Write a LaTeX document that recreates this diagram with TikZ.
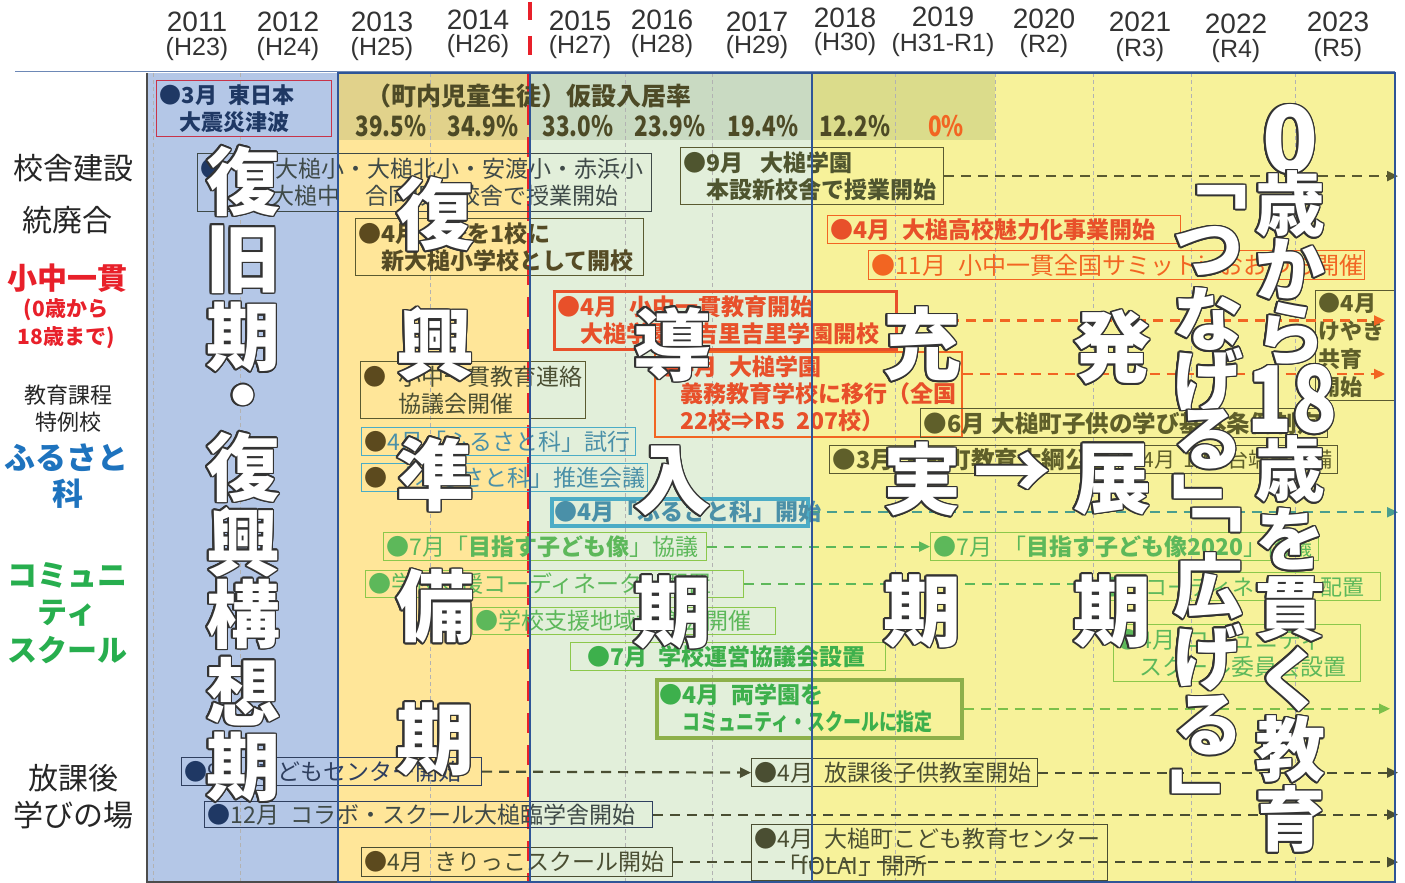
\documentclass[tikz,border=0pt]{standalone}
\usepackage{fontspec}
\setmainfont{Noto Sans CJK JP}
\newfontfamily\yearfont{Liberation Sans}
\usepackage{contour}
\contourlength{1.5pt}
\contournumber{16}
\usetikzlibrary{arrows.meta}
\definecolor{bgblue}{HTML}{B4C7E7}
\definecolor{bgorange}{HTML}{FFE699}
\definecolor{bggreen}{HTML}{E2EFDA}
\definecolor{bgyellow}{HTML}{F7F29A}
\definecolor{bandc}{HTML}{3C643C}
\definecolor{regnavy}{HTML}{2F5597}
\definecolor{jred}{HTML}{C8344A}
\definecolor{dnavy}{HTML}{1F3864}
\definecolor{slate}{HTML}{3F4A48}
\definecolor{olv}{HTML}{5A5A30}
\definecolor{olvt}{HTML}{554B25}
\definecolor{olvt2}{HTML}{4F552F}
\definecolor{olvt3}{HTML}{5F5F2A}
\definecolor{brn}{HTML}{5C4A1E}
\definecolor{org}{HTML}{F26522}
\definecolor{orgd}{HTML}{E8502A}
\definecolor{tealb}{HTML}{4BACC6}
\definecolor{tealt}{HTML}{4A90A8}
\definecolor{tealarr}{HTML}{4A9E8E}
\definecolor{grn}{HTML}{8CC84B}
\definecolor{grnt}{HTML}{5DB85A}
\definecolor{grnd}{HTML}{3DB04C}
\definecolor{grnarr}{HTML}{7CC04A}
\definecolor{ryoub}{HTML}{8DB04A}
\definecolor{dk}{HTML}{4A4E32}
\definecolor{cnavy}{HTML}{2F3F5F}
\definecolor{lred}{HTML}{E8202A}
\definecolor{lblue}{HTML}{1E73BE}
\definecolor{lgreen}{HTML}{27AE4E}
\definecolor{outl}{HTML}{333333}
\definecolor{pctc}{HTML}{4D4A26}
\newcommand\gap{\hspace*{0.5em}}
\newcommand\fs[1]{\fontsize{#1}{27}\selectfont}
\newcommand\bc[1]{\contour{outl}{#1}}
\newcommand\cnd[1]{\scalebox{0.8}[1]{#1}}
\tikzset{
  bx/.style={draw=#1, line width=1.2pt, anchor=north west, inner xsep=3pt, inner ysep=0pt, align=left, font=\fs{23}},
  sz/.style 2 args={text width=#1, minimum height=#2},
  arr/.style={draw=#1, line width=2.2pt, dash pattern=on 10pt off 7pt, -{Triangle[length=11pt,width=10pt]}},
  arrn/.style={draw=#1, line width=2.2pt, dash pattern=on 10pt off 7pt},
  big/.style={font=\fontsize{78}{78}\selectfont\bfseries, text=white, inner sep=0pt},
  bigs/.style={font=\fontsize{74}{74}\selectfont\bfseries, text=white, inner sep=0pt},
  bigr/.style={font=\fontsize{70}{70}\selectfont\bfseries, text=white, inner sep=0pt},
  bign/.style={font=\fontsize{92}{92}\selectfont\bfseries, text=white, inner sep=0pt},
  yr/.style={font=\yearfont\fontsize{28}{28}\selectfont, text=black!80, inner sep=0pt},
  hr/.style={font=\yearfont\fontsize{25}{25}\selectfont, text=black!80, inner sep=0pt},
  lab/.style={inner sep=0pt, font=\fontsize{30}{30}\selectfont, text=black!85},
  labs/.style={inner sep=0pt, font=\fontsize{22}{22}\selectfont, text=black!85},
  pct/.style={inner sep=0pt, font=\fontsize{28}{28}\selectfont\bfseries, text=pctc},
  ptl/.style={inner sep=0pt, font=\fontsize{25}{25}\selectfont\bfseries, text=pctc},
  grid/.style={draw=gray!60, line width=0.6pt, dash pattern=on 4pt off 3pt},
}
\begin{document}
\begin{tikzpicture}[x=1pt,y=-1pt]
\useasboundingbox (0,0) rectangle (1405,883);
\fill[white] (0,0) rectangle (1405,883);
% regions
\fill[bgblue] (147,73) rectangle (338,882);
\fill[bgorange] (338,73) rectangle (530,882);
\fill[bggreen] (530,73) rectangle (812,882);
\fill[bgyellow] (812,73) rectangle (1395,882);
\fill[bandc, opacity=0.15] (338,73) rectangle (995,140);
\foreach \x in {153,240,430,625,712,895,995,1093,1191,1295}
  \draw[grid] (\x,73) -- (\x,882);
\draw[lred, line width=3pt, dash pattern=on 20pt off 12pt] (528,73) -- (528,882);
% header
\draw[regnavy!70, line width=1pt] (15,72) -- (1395,72);
\draw[lred, line width=4pt] (530,2) -- (530,20);
\draw[lred, line width=4pt] (530,36) -- (530,55);
\node[yr] (y11) at (197,22) {2011}; \node[hr] (h11) at (197,49) {(H23)};
\node[yr] (y12) at (288,22) {2012}; \node[hr] (h12) at (288,49) {(H24)};
\node[yr] (y13) at (382,22) {2013}; \node[hr] (h13) at (382,49) {(H25)};
\node[yr] (y14) at (478,20) {2014}; \node[hr] (h14) at (478,46) {(H26)};
\node[yr] (y15) at (580,21) {2015}; \node[hr] (h15) at (580,47) {(H27)};
\node[yr] (y16) at (662,20) {2016}; \node[hr] (h16) at (662,46) {(H28)};
\node[yr] (y17) at (757,22) {2017}; \node[hr] (h17) at (757,47) {(H29)};
\node[yr] (y18) at (845,18) {2018}; \node[hr] (h18) at (845,44) {(H30)};
\node[yr] (y19) at (943,17) {2019}; \node[hr] (h19) at (943,45) {(H31-R1)};
\node[yr] (y20) at (1044,19) {2020}; \node[hr] (h20) at (1044,46) {(R2)};
\node[yr] (y21) at (1140,22) {2021}; \node[hr] (h21) at (1140,50) {(R3)};
\node[yr] (y22) at (1236,24) {2022}; \node[hr] (h22) at (1236,51) {(R4)};
\node[yr] (y23) at (1338,22) {2023}; \node[hr] (h23) at (1338,50) {(R5)};
% left labels
\node[lab] (l1) at (73,168) {校舎建設};
\node[lab] (l2) at (68,220) {統廃合};
\node[lab, text=lred, font=\fontsize{30}{30}\selectfont\bfseries] (l3) at (68,278) {小中一貫};
\node[lab, text=lred, font=\fontsize{21}{21}\selectfont\bfseries] (l4) at (66,310) {(0歳から};
\node[lab, text=lred, font=\fontsize{21}{21}\selectfont\bfseries] (l5) at (66,338) {18歳まで)};
\node[labs] (l6) at (68,395) {教育課程};
\node[labs] (l7) at (68,422) {特例校};
\node[lab, text=lblue, font=\fontsize{31}{31}\selectfont\bfseries] (l8) at (67,458) {ふるさと};
\node[lab, text=lblue, font=\fontsize{31}{31}\selectfont\bfseries] (l9) at (68,494) {科};
\node[lab, text=lgreen, font=\fontsize{30}{30}\selectfont\bfseries] (l10) at (67,575) {コミュニ};
\node[lab, text=lgreen, font=\fontsize{30}{30}\selectfont\bfseries] (l11) at (67,613) {ティ};
\node[lab, text=lgreen, font=\fontsize{30}{30}\selectfont\bfseries] (l12) at (67,650) {スクール};
\node[lab] (l13) at (73,778) {放課後};
\node[lab] (l14) at (73,815) {学びの場};
% percent band
\node[ptl] (ptitle) at (529,96) {（町内児童生徒）仮設入居率};
\node[pct] (p1) at (391,126) {\cnd{39.5\%}};
\node[pct] (p2) at (483,126) {\cnd{34.9\%}};
\node[pct] (p3) at (578,126) {\cnd{33.0\%}};
\node[pct] (p4) at (670,126) {\cnd{23.9\%}};
\node[pct] (p5) at (763,126) {\cnd{19.4\%}};
\node[pct] (p6) at (855,126) {\cnd{12.2\%}};
\node[pct, text=org] (p7) at (946,126) {\cnd{0\%}};
% boxes
\node[bx=jred, sz={169pt}{56pt}, text=dnavy, font=\fs{22}\bfseries] (jishin) at (156,80) {●3月\gap 東日本\\\hspace*{0.9em}大震災津波};
\node[bx=slate, sz={448pt}{58pt}, text=slate] (kasetsu) at (197,153) {\textcolor{dnavy}{●}\hspace*{2.26em}大槌小・大槌北小・安渡小・赤浜小\\\hspace*{3.1em}大槌中\hspace*{1.05em}合同仮設校舎で授業開始};
\node[bx=olv, sz={282pt}{57pt}, text=olvt, font=\fs{23}\bfseries] (yonkou) at (355,218) {\textcolor{brn}{●}4月\gap 4校を1校に\\\hspace*{1em}新大槌小学校として開校};
\node[bx=olv, sz={257pt}{57pt}, text=olvt2, font=\fs{23}\bfseries] (kugatsu) at (680,147) {●9月\hspace*{0.75em}大槌学園\\\hspace*{1em}本設新校舎で授業開始};
\node[bx=org, sz={347pt}{28pt}, text=orgd, font=\fs{23}\bfseries] (koukou) at (827,215) {●4月\gap 大槌高校魅力化事業開始};
\node[bx=org, sz={490pt}{29pt}, text=org, font=\fs{24}] (summit) at (868,250) {●11月\gap 小中一貫全国サミットinおおつち開催};
\node[bx=orgd, line width=3pt, sz={336pt}{58pt}, text=orgd, font=\fs{23}\bfseries] (ikkan) at (553,290) {●4月\gap 小中一貫教育開始\\\hspace*{1em}大槌学園・吉里吉里学園開校};
\node[bx=org, line width=1.5pt, sz={301pt}{85pt}, text=orgd, font=\fs{23}\bfseries] (gimu) at (654,351) {●4月\gap 大槌学園\\\hspace*{1em}義務教育学校に移行（全国\\\hspace*{1em}22校⇒R5\gap 207校）};
\node[bx=olv, sz={74pt}{110pt}, text=olvt3, font=\fontsize{22}{28}\selectfont\bfseries] (keyaki) at (1315,290) {●4月\\けやき\\共育\\開始};
\node[bx=olv, sz={219pt}{57pt}, text=dk] (renraku) at (360,361) {\textcolor{brn}{●}\hspace*{0.5em}小中一貫教育連絡\\\hspace*{1.5em}協議会開催};
\node[bx=tealb, sz={268pt}{28pt}, text=tealt] (furu1) at (361,427) {\textcolor{brn}{●}4月「ふるさと科」試行};
\node[bx=tealb, sz={280pt}{28pt}, text=tealt] (furu2) at (361,463) {\textcolor{brn}{●}\hspace*{0.2em}「ふるさと科」推進会議};
\node[bx=tealb, line width=3.5pt, sz={250pt}{27pt}, text=tealt, font=\fs{23}\bfseries] (furu3) at (550,497) {●4月「ふるさと科」開始};
\node[bx=grn, sz={317pt}{28pt}, text=grnt] (mezasu) at (383,532) {●7月「\textbf{目指す子ども像}」協議};
\node[bx=grn, sz={382pt}{28pt}, text=grnt] (mezasu2) at (930,532) {●7月\gap「\textbf{目指す子ども像2020}」協議};
\node[bx=grn, sz={372pt}{27pt}, text=grnt] (coord) at (365,570) {●学校支援コーディネーター配置};
\node[bx=grn, sz={276pt}{28pt}, text=grnt, font=\fs{22}] (coord2) at (1098,572) {●　コーディネーター配置};
\node[bx=grn, sz={297pt}{27pt}, text=grnt] (chiiki) at (472,607) {●学校支援地域協議会開催};
\node[bx=grn, sz={309pt}{28pt}, text=grnd, font=\fs{23}\bfseries] (unei) at (570,642) {\hspace*{0.6em}●7月\gap 学校運営協議会設置};
\node[bx=ryoub, line width=3.5pt, sz={299pt}{58pt}, text=grnd, font=\fs{23}\bfseries] (ryou) at (655,678) {●4月\gap 両学園を\\\hspace*{1em}\scalebox{0.78}[1]{コミュニティ・スクールに指定}};
\node[bx=grn, sz={241pt}{57pt}, text=grnt] (cs) at (1113,624) {●4月\gap コミュニティ\\\hspace*{1em}スクール委員会設置};
\node[bx=olv, sz={401pt}{29pt}, text=olvt3, font=\fs{23.5}\bfseries] (jourei) at (920,408) {●6月\hspace*{0.3em}大槌町子供の学び基本条例制定};
\node[bx=olv, sz={283pt}{28pt}, text=olvt3, font=\fs{23.5}\bfseries] (taikou) at (829,445) {●3月\hspace*{0.3em}大槌町教育大綱公表};
\node[bx=olv, sz={213pt}{28pt}, text=olvt3, font=\fs{21}] (tanmatsu) at (1118,445) {●4月\hspace*{0.4em}1人1台端末整備};
\node[bx=cnavy, sz={294pt}{28pt}, text=cnavy] (center) at (181,757) {\textcolor{dnavy}{●}9月\gap こどもセンター開始};
\node[bx=dk, sz={280pt}{28pt}, text=dk] (houkago) at (751,758) {●4月\gap 放課後子供教室開始};
\node[bx=cnavy, sz={442pt}{26pt}, text=slate] (collab) at (204,801) {\textcolor{dnavy}{●}12月\gap コラボ・スクール大槌臨学舎開始};
\node[bx=dk, sz={305pt}{29pt}, text=dk] (kirikko) at (361,847) {\textcolor{brn}{●}4月\gap きりっこスクール開始};
\node[bx=dk, sz={350pt}{56pt}, text=dk] (folai) at (751,824) {●4月\gap 大槌町こども教育センター\\\hspace*{1em}「fOLAI」開所};
% connectors
\coordinate (Rx) at (1398,0);
\coordinate (Rx2) at (1385,0);
\coordinate (Rx3) at (1390,0);
\coordinate (g1) at ([yshift=-23pt]gimu.north east);
\draw[arr=olv] (kugatsu.east) -- (kugatsu.east -| Rx);
\draw[arr=org] (ikkan.east) -- (ikkan.east -| Rx2);
\draw[arr=org] (g1) -- (g1 -| Rx2);
\draw[arr=tealarr] (furu3.east) -- (furu3.east -| Rx);
\draw[arr=grnt] (mezasu.east) -- (mezasu2.west);
\draw[arrn=grnt] (coord.east) -- (coord.east -| coord2.west);
\draw[arr=grnarr] (ryou.east) -- (ryou.east -| Rx3);
\draw[arr=dk] (center.east) -- (houkago.west);
\draw[arr=dk] (houkago.east) -- (houkago.east -| Rx);
\draw[arr=dk] (collab.east) -- (collab.east -| Rx);
\draw[arr=dk] (kirikko.east) -- (kirikko.east -| Rx);
% region outlines
\draw[gray!60!black, line width=1.2pt] (147,73) -- (147,882) -- (338,882);
\draw[regnavy, line width=1.5pt] (338,73) rectangle (530,882);
\draw[regnavy, line width=1.5pt] (530,73) rectangle (812,882);
\draw[regnavy, line width=1.5pt] (812,73) rectangle (1395,882);
% big period characters
\node[bigs] (a1) at (243,182) {\bc{復}};
\node[bigs] (a2) at (243,260) {\bc{旧}};
\node[bigs] (a3) at (243,338) {\bc{期}};
\node[bigs] (a4) at (243,405) {\bc{・}};
\node[bigs] (a5) at (243,468) {\bc{復}};
\node[bigs] (a6) at (243,543) {\bc{興}};
\node[bigs] (a7) at (243,615) {\bc{構}};
\node[bigs] (a8) at (243,692) {\bc{想}};
\node[bigs] (a9) at (243,768) {\bc{期}};
\node[big] (b1) at (435,215) {\bc{復}};
\node[big] (b2) at (435,345) {\bc{興}};
\node[big] (b3) at (435,475) {\bc{準}};
\node[big] (b4) at (435,607) {\bc{備}};
\node[big] (b5) at (435,740) {\bc{期}};
\node[big] (c1) at (672,345) {\bc{導}};
\node[big] (c2) at (672,482) {\bc{入}};
\node[big] (c3) at (672,613) {\bc{期}};
\node[big] (d1) at (922,345) {\bc{充}};
\node[big] (d2) at (922,480) {\bc{実}};
\node[big] (d3) at (922,612) {\bc{期}};
\node[big] (arrow) at (1012,477) {\bc{→}};
\node[big] (e1) at (1112,348) {\bc{発}};
\node[big] (e2) at (1112,480) {\bc{展}};
\node[big] (e3) at (1112,612) {\bc{期}};
\node[bigr] (f1) at (1212,198) {\bc{﹁}};
\node[bigr] (f2) at (1208,252) {\bc{つ}};
\node[bigr] (f3) at (1208,320) {\bc{な}};
\node[bigr] (f4) at (1208,382) {\bc{げ}};
\node[bigr] (f5) at (1208,440) {\bc{る}};
\node[bigr] (f6) at (1207,505) {\bc{﹂}};
\node[bigr] (f7) at (1207,521) {\bc{﹁}};
\node[bigr] (f8) at (1208,587) {\bc{広}};
\node[bigr] (f9) at (1208,658) {\bc{げ}};
\node[bigr] (f10) at (1208,726) {\bc{る}};
\node[bigr] (f11) at (1205,800) {\bc{﹂}};
\node[bign] (g0) at (1290,140) {\bc{0}};
\node[bigr] (g2) at (1290,205) {\bc{歳}};
\node[bigr] (g3) at (1290,270) {\bc{か}};
\node[bigr] (g4) at (1290,335) {\bc{ら}};
\node[bign] (g5) at (1292,400) {\cnd{\bc{18}}};
\node[bigr] (g6) at (1290,470) {\bc{歳}};
\node[bigr] (g7) at (1290,540) {\bc{を}};
\node[bigr] (g8) at (1290,610) {\bc{貫}};
\node[bigr] (g9) at (1290,680) {\bc{く}};
\node[bigr] (g10) at (1290,750) {\bc{教}};
\node[bigr] (g11) at (1290,820) {\bc{育}};
\end{tikzpicture}
\end{document}
